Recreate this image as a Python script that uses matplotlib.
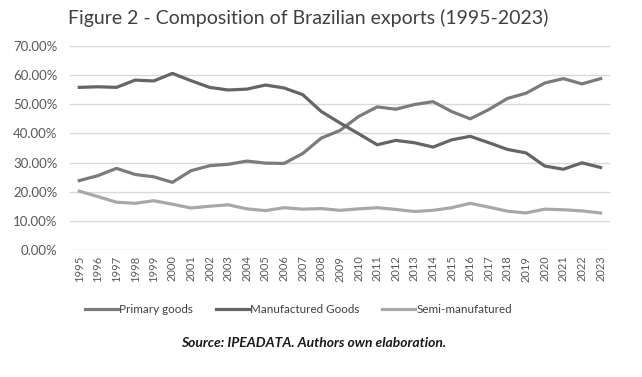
import matplotlib
matplotlib.use("Agg")
import matplotlib.pyplot as plt
from matplotlib.ticker import PercentFormatter

# Composition of Brazilian exports, share of total (%)
years = list(range(1995, 2024))
primary = [23.8, 25.5, 28.0, 25.9, 25.1, 23.2, 27.2, 28.9, 29.4, 30.5,
           29.8, 29.7, 33.1, 38.4, 41.0, 45.8, 49.1, 48.3, 49.9, 50.9,
           47.5, 45.0, 48.2, 52.0, 53.8, 57.3, 58.8, 57.0, 58.8]
manufactured = [55.8, 56.0, 55.8, 58.3, 58.0, 60.6, 58.1, 55.8, 54.9, 55.2,
                56.6, 55.6, 53.3, 47.5, 43.6, 39.9, 36.1, 37.6, 36.8, 35.3,
                37.8, 39.0, 36.8, 34.5, 33.3, 28.8, 27.7, 29.9, 28.3]
semi = [20.2, 18.3, 16.4, 16.0, 16.9, 15.7, 14.4, 15.0, 15.5, 14.1,
        13.5, 14.5, 14.0, 14.2, 13.6, 14.1, 14.5, 13.9, 13.2, 13.6,
        14.5, 16.0, 14.7, 13.3, 12.7, 14.0, 13.8, 13.4, 12.7]

plt.rcParams['font.family'] = ['Lato', 'DejaVu Sans']

fig = plt.figure(figsize=(6.42, 3.77), dpi=100)
ax = fig.add_axes([0.109, 0.337, 0.841, 0.541])

ax.plot(years, primary, color='#7b7b7b', linewidth=2.3, label='Primary goods')
ax.plot(years, manufactured, color='#656565', linewidth=2.3, label='Manufactured Goods')
ax.plot(years, semi, color='#a8a8a8', linewidth=2.3, label='Semi-manufatured')

ax.set_xlim(1994.5, 2023.5)
ax.set_ylim(0, 70)
ax.set_yticks(range(0, 71, 10))
ax.yaxis.set_major_formatter(PercentFormatter(decimals=2))
ax.set_xticks(years)
ax.set_xticklabels([str(y) for y in years], rotation=90)
ax.tick_params(axis='both', length=0, colors='#595959')
ax.tick_params(axis='y', pad=9, labelsize=9.5)
ax.tick_params(axis='x', pad=4, labelsize=8)
ax.grid(axis='y', color='#d9d9d9', linewidth=1)
ax.set_axisbelow(True)
for s in ax.spines.values():
    s.set_visible(False)

fig.text(0.48, 0.952, 'Figure 2 - Composition of Brazilian exports (1995-2023)',
         ha='center', va='center', fontsize=14, color='#404040')

ax.legend(loc='center', bbox_to_anchor=(0.423, -0.29), ncol=3,
          frameon=False, fontsize=8.4, handlelength=2.8, handletextpad=0.1,
          columnspacing=2.0, labelcolor='#404040')

fig.text(0.488, 0.09, 'Source: IPEADATA. Authors own elaboration.',
         ha='center', va='center', fontsize=10, fontweight='bold',
         fontstyle='italic', color='#1a1a1a')

fig.savefig('out.png', dpi=100)
